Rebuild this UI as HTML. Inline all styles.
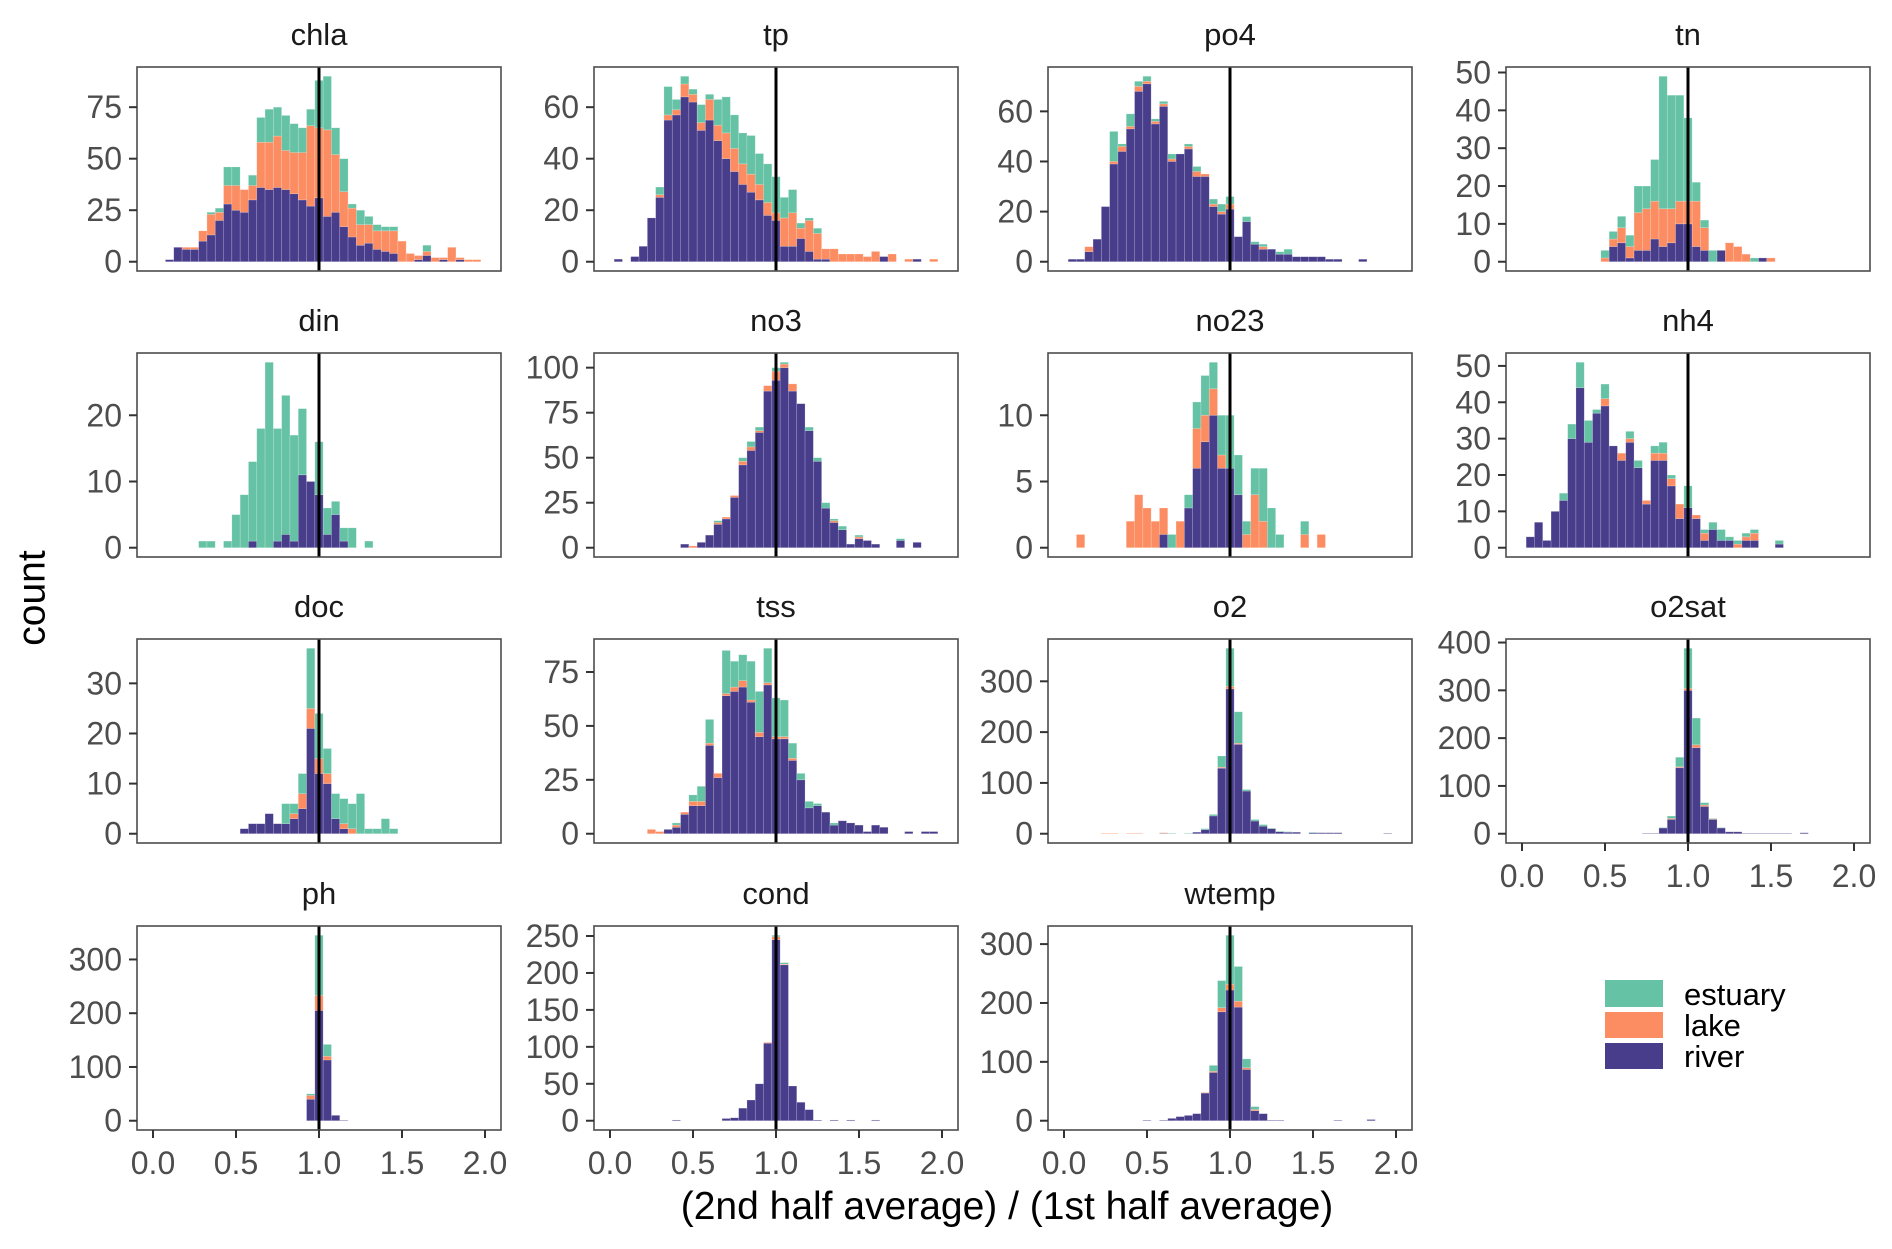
<!DOCTYPE html>
<html><head><meta charset="utf-8"><style>
html,body{margin:0;padding:0;background:#fff;}
svg{display:block;font-family:"Liberation Sans",Arial,sans-serif;}
</style></head><body>
<svg id="chart" width="1892" height="1249" viewBox="0 0 1892 1249" xmlns="http://www.w3.org/2000/svg">
<rect x="0" y="0" width="1892" height="1249" fill="#fff"/>
<g id="panels"></g>
<text x="34" y="598" font-size="39" fill="#000" text-anchor="middle" dominant-baseline="middle" transform="rotate(-90 34 598)">count</text>
<text x="1007" y="1219" font-size="39" fill="#000" text-anchor="middle">(2nd half average) / (1st half average)</text>
<g>
<rect x="1605" y="980" width="58" height="27" fill="#66c2a5"/>
<rect x="1605" y="1012" width="58" height="26" fill="#fc8d62"/>
<rect x="1605" y="1043" width="58" height="26" fill="#483d8b"/>
<text x="1684" y="1005" font-size="31" fill="#000">estuary</text>
<text x="1684" y="1036" font-size="31" fill="#000">lake</text>
<text x="1684" y="1067" font-size="31" fill="#000">river</text>
</g>
</svg>
<script>
const binWidth = 0.05;
const xTicks = [0, 0.5, 1.0, 1.5, 2.0];
const xTickLabels = ["0.0", "0.5", "1.0", "1.5", "2.0"];
const refLine = 1.0;

const chlaStart = 2;
const chlaRiver = [1,7,6,6,10,13,20,28,25,24,30,36,35,36,35,33,30,27,31,22,24,17,12,8,9,6,5,4,0,0,1,3,0,1,0,1,0,0];
const chlaLake = [0,0,1,1,5,10,4,9,12,11,7,22,23,25,19,20,23,39,34,42,28,17,14,10,9,9,10,11,10,4,2,2,2,1,7,1,1,1];
const chlaEstuary = [0,0,0,0,0,1,2,9,9,0,5,12,16,14,17,14,12,8,23,26,13,16,2,7,4,3,2,2,0,0,0,3,0,0,0,0,0,0];
const chlaTicks = [0,25,50,75];

const tpStart = 1;
const tpRiver = [1,0,2,6,17,25,55,57,64,62,51,55,47,40,35,30,27,24,18,16,6,6,9,4,1,1,0,0,0,0,0,0,2,0,0,0,1,0,0];
const tpLake = [0,0,0,0,0,1,2,2,5,3,3,8,6,10,9,8,7,6,5,3,11,13,4,12,10,4,5,3,3,3,2,4,0,3,0,1,0,0,1];
const tpEstuary = [0,0,0,0,0,3,11,4,3,2,7,2,10,14,13,12,15,12,15,14,8,9,2,1,2,0,0,0,0,0,0,0,0,0,0,0,0,0,0];
const tpTicks = [0,20,40,60];

const po4Start = 1;
const po4River = [1,1,4,9,22,39,44,53,68,71,55,62,40,43,45,34,34,22,19,21,10,16,7,5,5,3,3,2,2,2,2,1,1,0,0,1];
const po4Lake = [0,0,2,0,0,1,2,1,2,1,1,1,1,0,1,2,1,1,1,2,0,0,0,1,0,0,0,0,0,0,0,0,0,0,0,0];
const po4Estuary = [0,0,0,0,0,12,1,5,2,2,1,1,2,0,1,2,0,2,3,3,0,2,1,1,0,1,2,0,0,0,0,0,0,0,0,0];
const po4Ticks = [0,20,40,60];

const tnStart = 10;
const tnRiver = [0,4,5,1,3,3,6,4,5,10,10,4,3,0,3,0,0,0,0,1,0];
const tnLake = [1,2,4,3,10,11,10,10,9,6,6,12,6,0,0,5,4,2,0,0,1];
const tnEstuary = [2,2,3,3,7,6,11,35,30,28,22,5,2,3,0,0,0,0,1,0,0];
const tnTicks = [0,10,20,30,40,50];

const dinStart = 6;
const dinRiver = [0,0,0,0,0,0,1,0,0,1,2,1,11,10,8,2,5,1,0,0,0];
const dinLake = [0,0,0,0,0,0,0,0,0,0,0,0,0,0,0,0,0,0,0,0,0];
const dinEstuary = [1,1,0,1,5,8,12,18,28,17,21,16,10,0,8,4,2,2,3,0,1];
const dinTicks = [0,10,20];

const no3Start = 9;
const no3River = [2,0,3,7,13,16,28,46,54,64,87,93,100,87,80,65,48,22,14,10,2,5,4,2,0,0,4,0,3];
const no3Lake = [0,1,0,0,1,1,1,2,2,1,3,5,2,4,0,0,0,0,1,0,0,1,0,0,0,0,0,0,0];
const no3Estuary = [0,0,0,0,1,0,0,2,3,2,0,2,1,0,0,2,2,3,1,2,0,1,0,0,0,0,1,0,0];
const no3Ticks = [0,25,50,75,100];

const no23Start = 2;
const no23River = [0,0,0,0,0,0,0,0,0,0,1,0,0,3,6,8,10,6,6,4,0,0,0,0,0,0,0,0,0,0];
const no23Lake = [1,0,0,0,0,0,2,4,3,2,2,0,2,0,3,2,2,1,0,0,1,4,2,0,0,0,0,1,0,1];
const no23Estuary = [0,0,0,0,0,0,0,0,0,0,0,1,0,1,2,3,2,3,4,3,1,2,4,3,1,0,0,1,0,0];
const no23Ticks = [0,5,10];

const nh4Start = 1;
const nh4River = [3,7,2,10,13,30,44,29,37,39,28,24,29,22,12,24,24,17,8,11,8,2,5,2,2,0,2,2,0,0,1];
const nh4Lake = [0,0,0,0,0,0,0,0,0,2,0,2,1,0,1,2,2,2,4,0,1,2,0,0,0,1,1,2,0,0,0];
const nh4Estuary = [0,0,0,0,2,4,7,6,1,4,0,0,2,2,0,2,3,1,0,6,0,1,2,3,1,1,1,1,0,0,1];
const nh4Ticks = [0,10,20,30,40,50];

const docStart = 11;
const docRiver = [1,2,2,4,2,2,3,5,21,12,10,3,1,0,0,0,0,0,0];
const docLake = [0,0,0,0,0,0,1,3,4,3,2,0,1,1,0,0,0,0,0];
const docEstuary = [0,0,0,0,0,4,2,4,12,9,5,5,5,5,8,1,1,3,1];
const docTicks = [0,10,20,30];

const tssStart = 5;
const tssRiver = [0,0,2,3,9,13,13,41,26,64,66,68,61,45,69,44,44,34,25,12,13,10,4,6,5,4,1,4,3,0,0,1,0,1,1,0];
const tssLake = [2,1,0,1,1,2,2,1,2,1,2,3,1,2,1,1,1,1,0,0,0,0,0,0,0,0,0,0,0,0,0,0,0,0,0,0];
const tssEstuary = [0,0,0,1,0,3,7,11,0,20,12,12,18,19,16,18,17,7,3,3,1,0,1,0,0,0,0,0,0,0,0,0,0,0,0,0];
const tssTicks = [0,25,50,75];

const o2Start = 5;
const o2River = [0,0,0,0,0,0,0,1,0,0,0,3,8,35,129,285,176,84,25,15,10,4,3,3,0,2,2,2,2,0,0,0,0,0,1];
const o2Lake = [1,1,0,1,1,0,0,1,0,0,0,0,0,0,2,5,2,0,0,0,0,0,0,0,0,0,0,0,0,0,0,0,0,0,0];
const o2Estuary = [0,0,0,0,0,0,0,0,1,0,1,0,2,3,22,75,62,3,3,3,1,1,1,0,0,1,0,0,0,0,0,0,0,0,0];
const o2Ticks = [0,100,200,300];

const o2satStart = 15;
const o2satRiver = [1,1,12,30,138,300,180,57,30,12,4,4,1,1,1,1,1,1,0,2];
const o2satLake = [0,0,0,2,2,4,6,3,1,0,0,0,0,0,0,0,0,0,0,0];
const o2satEstuary = [0,0,1,5,20,84,56,5,1,1,0,0,0,0,0,0,0,0,0,0];
const o2satTicks = [0,100,200,300,400];

const phStart = 19;
const phRiver = [40,205,113,10,1];
const phLake = [7,28,7,0,0];
const phEstuary = [3,112,22,0,0];
const phTicks = [0,100,200,300];

const condStart = 8;
const condRiver = [1,0,0,0,0,0,3,4,17,28,50,105,245,211,47,25,15,1,0,1,0,1,0,0,1];
const condLake = [0,0,0,0,0,0,0,0,0,0,0,1,4,1,0,0,0,0,0,0,0,0,0,0,0];
const condEstuary = [0,0,0,0,0,0,0,0,0,0,0,0,2,2,0,0,0,0,0,0,0,0,0,0,0];
const condTicks = [0,50,100,150,200,250];

const wtempStart = 10;
const wtempRiver = [1,0,1,4,7,9,12,47,82,185,222,193,87,17,12,1,1,0,0,0,0,0,0,1,0,0,0,2];
const wtempLake = [0,0,0,0,0,0,0,1,2,7,10,10,3,2,0,0,0,0,0,0,0,0,0,0,0,0,0,0];
const wtempEstuary = [0,0,0,0,0,0,0,0,10,46,83,59,15,5,0,0,0,0,0,0,0,0,0,0,0,0,0,0];
const wtempTicks = [0,100,200,300];

const panels = [
  {name:"chla", start:chlaStart, river:chlaRiver, lake:chlaLake, est:chlaEstuary, ticks:chlaTicks},
  {name:"tp", start:tpStart, river:tpRiver, lake:tpLake, est:tpEstuary, ticks:tpTicks},
  {name:"po4", start:po4Start, river:po4River, lake:po4Lake, est:po4Estuary, ticks:po4Ticks},
  {name:"tn", start:tnStart, river:tnRiver, lake:tnLake, est:tnEstuary, ticks:tnTicks},
  {name:"din", start:dinStart, river:dinRiver, lake:dinLake, est:dinEstuary, ticks:dinTicks},
  {name:"no3", start:no3Start, river:no3River, lake:no3Lake, est:no3Estuary, ticks:no3Ticks},
  {name:"no23", start:no23Start, river:no23River, lake:no23Lake, est:no23Estuary, ticks:no23Ticks},
  {name:"nh4", start:nh4Start, river:nh4River, lake:nh4Lake, est:nh4Estuary, ticks:nh4Ticks},
  {name:"doc", start:docStart, river:docRiver, lake:docLake, est:docEstuary, ticks:docTicks},
  {name:"tss", start:tssStart, river:tssRiver, lake:tssLake, est:tssEstuary, ticks:tssTicks},
  {name:"o2", start:o2Start, river:o2River, lake:o2Lake, est:o2Estuary, ticks:o2Ticks},
  {name:"o2sat", start:o2satStart, river:o2satRiver, lake:o2satLake, est:o2satEstuary, ticks:o2satTicks},
  {name:"ph", start:phStart, river:phRiver, lake:phLake, est:phEstuary, ticks:phTicks},
  {name:"cond", start:condStart, river:condRiver, lake:condLake, est:condEstuary, ticks:condTicks},
  {name:"wtemp", start:wtempStart, river:wtempRiver, lake:wtempLake, est:wtempEstuary, ticks:wtempTicks}
];

const NS = "http://www.w3.org/2000/svg";
const colLeft = [137, 594, 1048, 1506];
const rowTop = [67, 353, 639, 926];
const PW = 364, PH = 204;
const xMin = 1 - (PW/2)/166, xMax = 1 + (PW/2)/166;
const COLORS = {river:"#483d8b", lake:"#fc8d62", est:"#66c2a5"};

function mk(tag, attrs, parent) {
  const el = document.createElementNS(NS, tag);
  for (const k in attrs) el.setAttribute(k, attrs[k]);
  parent.appendChild(el);
  return el;
}

const root = document.getElementById("panels");

panels.forEach((p, i) => {
  const col = i % 4, row = Math.floor(i / 4);
  const L = colLeft[col], T = rowTop[row];
  const g = mk("g", {}, root);
  
  

  let maxTot = 0;
  for (let j = 0; j < p.river.length; j++) {
    maxTot = Math.max(maxTot, p.river[j] + p.lake[j] + p.est[j]);
  }
  const yMin = -0.05 * maxTot, yMax = 1.05 * maxTot;
  const xs = v => L + (v - xMin) / (xMax - xMin) * PW;
  const ys = v => T + PH - (v - yMin) / (yMax - yMin) * PH;

  const title = mk("text", {x: L + PW/2, y: T - 30, "font-size": 31, fill: "#1a1a1a", "text-anchor": "middle", "dominant-baseline": "middle"}, g);
  title.textContent = p.name;
  
  

  const bg = mk("rect", {x: L, y: T, width: PW, height: PH, fill: "#fff"}, g);
  
  

  const bars = mk("g", {}, g);
  
  
  for (let j = 0; j < p.river.length; j++) {
    const c = (p.start + j) * binWidth;
    const x0 = xs(c - binWidth/2), x1 = xs(c + binWidth/2);
    const segs = [["river", p.river[j]], ["lake", p.lake[j]], ["est", p.est[j]]];
    let base = 0;
    segs.forEach(([s, v]) => {
      if (v > 0) {
        const r = mk("rect", {x: x0, y: ys(base + v), width: x1 - x0, height: ys(base) - ys(base + v), fill: COLORS[s], stroke: "rgba(255,255,255,0.3)", "stroke-width": 0.6}, bars);
        
        
      }
      base += v;
    });
  }

  const vl = mk("line", {x1: xs(refLine), x2: xs(refLine), y1: T, y2: T + PH, stroke: "#000", "stroke-width": 3}, g);
  
  

  const border = mk("rect", {x: L, y: T, width: PW, height: PH, fill: "none", stroke: "#4d4d4d", "stroke-width": 1.6}, g);
  
  

  p.ticks.forEach(t => {
    const y = ys(t);
    const tk = mk("line", {x1: L - 8, x2: L, y1: y, y2: y, stroke: "#333", "stroke-width": 2}, g);
    
    
    const lb = mk("text", {x: L - 15, y: y, "font-size": 32, fill: "#4d4d4d", "text-anchor": "end", "dominant-baseline": "central"}, g);
    lb.textContent = String(t);
    
    
  });

  const bottomRow = (row === 3) || (row === 2 && col === 3);
  if (bottomRow) {
    xTicks.forEach((t, k) => {
      const x = xs(t);
      const tk = mk("line", {x1: x, x2: x, y1: T + PH, y2: T + PH + 8, stroke: "#333", "stroke-width": 2}, g);
      
      
      const lb = mk("text", {x: x, y: T + PH + 33, "font-size": 32, fill: "#4d4d4d", "text-anchor": "middle", "dominant-baseline": "central"}, g);
      lb.textContent = xTickLabels[k];
      
      
    });
  }
});
</script>
</body></html>
